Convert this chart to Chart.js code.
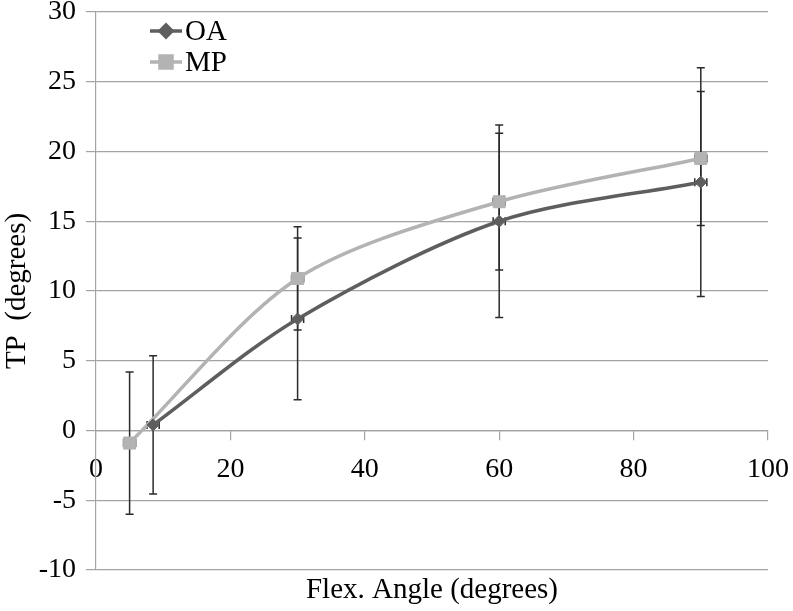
<!DOCTYPE html>
<html>
<head>
<meta charset="utf-8">
<script src="https://cdn.jsdelivr.net/npm/chart.js@4.4.0/dist/chart.umd.min.js"></script>
<style>
html, body { margin: 0; padding: 0; background: #fff; }
</style>
</head>
<body>
<canvas id="graph1" width="793" height="611"></canvas>
<script>
// data
var oaAngle = [8.5, 30, 60, 90];
var oaTP = [0.4, 8.0, 15.0, 17.8];
var oaErr = [4.95, 5.8, 6.9, 8.2];
var mpAngle = [5, 30, 60, 90];
var mpTP = [-0.9, 10.9, 16.4, 19.5];
var mpErr = [5.1, 3.7, 4.9, 4.8];
var angleErr = [0.9, 0.9, 0.9, 0.9];
var xTicks = [0, 20, 40, 60, 80, 100];
var yTicks = [-10, -5, 0, 5, 10, 15, 20, 25, 30];

var oaColor = '#5e5e5e';
var mpColor = '#b3b3b3';
var gridColor = '#a3a3a3';
var serif = '"Liberation Serif", "Times New Roman", serif';

function toPoints(xs, ys) {
    let pts = [];
    for (let i = 0; i < xs.length; i++) {
        pts.push({x: xs[i], y: ys[i]});
    }
    return pts;
}

//error bars, drawn under the lines and markers
const errorBars = {
    id: 'errorBars',
    beforeDatasetsDraw(chart) {
        const ctx = chart.ctx;
        const xa = chart.scales.x, ya = chart.scales.y;
        const sets = [[oaAngle, oaTP, oaErr], [mpAngle, mpTP, mpErr]];
        ctx.save();
        ctx.strokeStyle = '#2b2b2b';
        ctx.lineWidth = 1.5;
        sets.forEach(function (s) {
            for (let i = 0; i < s[0].length; i++) {
                let px = xa.getPixelForValue(s[0][i]);
                let py = ya.getPixelForValue(s[1][i]);
                let top = ya.getPixelForValue(s[1][i] + s[2][i]);
                let bot = ya.getPixelForValue(s[1][i] - s[2][i]);
                let lft = xa.getPixelForValue(s[0][i] - angleErr[i]);
                let rgt = xa.getPixelForValue(s[0][i] + angleErr[i]);
                ctx.beginPath();
                ctx.moveTo(px, top); ctx.lineTo(px, bot);
                ctx.moveTo(px - 4, top); ctx.lineTo(px + 4, top);
                ctx.moveTo(px - 4, bot); ctx.lineTo(px + 4, bot);
                ctx.moveTo(lft, py); ctx.lineTo(rgt, py);
                ctx.moveTo(lft, py - 4); ctx.lineTo(lft, py + 4);
                ctx.moveTo(rgt, py - 4); ctx.lineTo(rgt, py + 4);
                ctx.stroke();
            }
        });
        ctx.restore();
    }
};

//legend + axis titles
const extraText = {
    id: 'extraText',
    afterDraw(chart) {
        const ctx = chart.ctx;
        const area = chart.chartArea;
        ctx.save();
        ctx.fillStyle = '#000';
        ctx.font = '29px ' + serif;
        ctx.textBaseline = 'middle';
        const items = [['OA', oaColor, 'rectRot', 6, 31], ['MP', mpColor, 'rect', 8.5, 62]];
        items.forEach(function (it) {
            ctx.strokeStyle = it[1];
            ctx.lineWidth = 3.5;
            ctx.beginPath();
            ctx.moveTo(150, it[4]); ctx.lineTo(182, it[4]);
            ctx.stroke();
            ctx.fillStyle = it[1];
            Chart.helpers.drawPoint(ctx, {pointStyle: it[2], radius: it[3], borderWidth: 1}, 166, it[4]);
            ctx.fill();
            ctx.fillStyle = '#000';
            ctx.textAlign = 'left';
            ctx.fillText(it[0], 185, it[4] + 1);
        });
        ctx.textAlign = 'center';
        ctx.fillText('Flex. Angle (degrees)', (area.left + area.right) / 2, 590);
        ctx.translate(17, (area.top + area.bottom) / 2);
        ctx.rotate(-Math.PI / 2);
        ctx.fillText('TP  (degrees)', 0, 0);
        ctx.restore();
    }
};

let graph1 = document.getElementById('graph1').getContext('2d');
const myChart = new Chart(graph1, {
    type: 'scatter',
    data: {
        datasets: [{
            label: 'OA',
            data: toPoints(oaAngle, oaTP),
            showLine: true,
            tension: 0.3,
            borderColor: oaColor,
            backgroundColor: oaColor,
            borderWidth: 3.5,
            pointStyle: 'rectRot',
            pointRadius: 6,
            pointBorderWidth: 1
        }, {
            label: 'MP',
            data: toPoints(mpAngle, mpTP),
            showLine: true,
            tension: 0.3,
            borderColor: mpColor,
            backgroundColor: mpColor,
            borderWidth: 3.5,
            pointStyle: 'rect',
            pointRadius: 8.5,
            pointBorderWidth: 1
        }]
    },
    options: {
        responsive: false,
        animation: false,
        layout: { padding: { left: 0, right: 25, top: 12, bottom: 41 } },
        plugins: {
            legend: { display: false },
            tooltip: { enabled: false }
        },
        scales: {
            x: {
                type: 'linear',
                position: { y: 0 },
                min: 0,
                max: 100,
                afterBuildTicks: function (scale) {
                    scale.ticks = xTicks.map(v => ({value: v}));
                },
                afterFit: function (scale) {
                    scale.paddingLeft = 0; scale.paddingRight = 0;
                },
                ticks: {
                    autoSkip: false,
                    maxRotation: 0,
                    padding: 13,
                    color: '#000',
                    font: { family: serif, size: 28 }
                },
                grid: { drawOnChartArea: false, tickLength: 9, color: gridColor, lineWidth: 1.2 },
                border: { color: gridColor, width: 1.2 }
            },
            y: {
                type: 'linear',
                position: 'left',
                min: -10,
                max: 30,
                afterBuildTicks: function (scale) {
                    scale.ticks = yTicks.map(v => ({value: v}));
                },
                afterFit: function (scale) {
                    scale.width = 96;
                    scale.paddingTop = 0; scale.paddingBottom = 0;
                },
                ticks: {
                    autoSkip: false,
                    padding: 10,
                    color: '#000',
                    font: { family: serif, size: 28 }
                },
                grid: { tickLength: 10, color: gridColor, lineWidth: 1.2 },
                border: { color: gridColor, width: 1.2 }
            }
        }
    },
    plugins: [errorBars, extraText]
});
</script>
</body>
</html>
